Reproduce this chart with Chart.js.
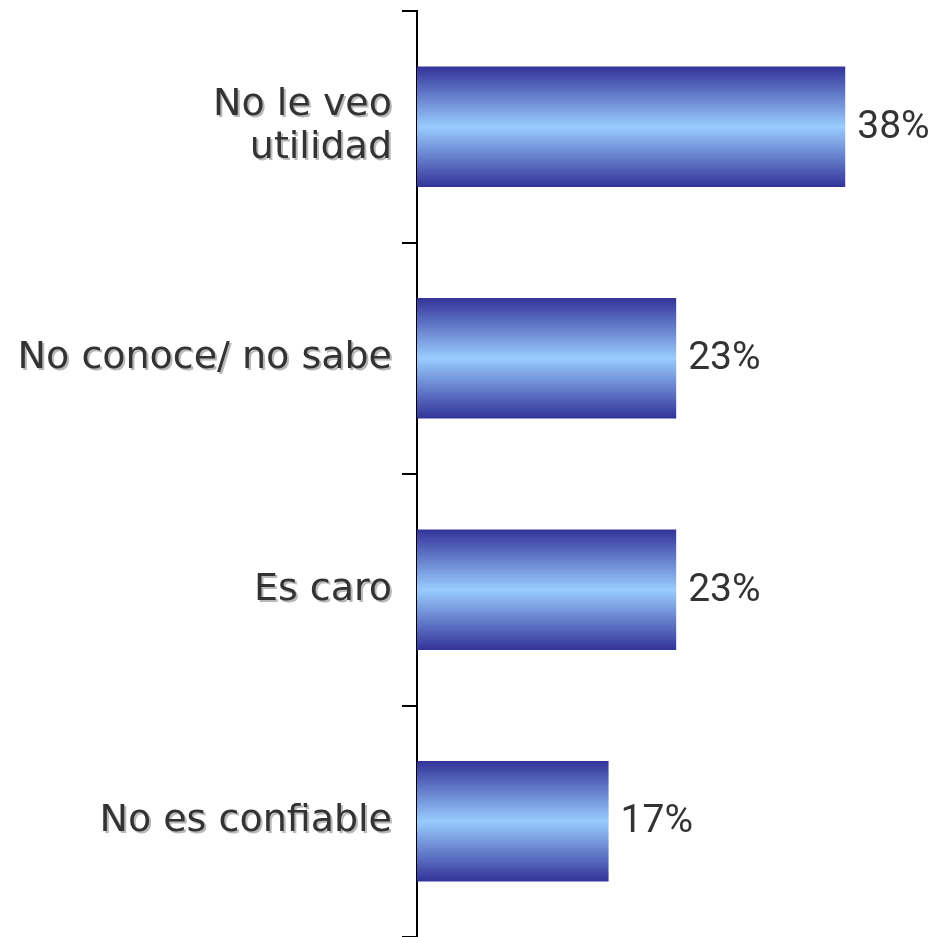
<!DOCTYPE html>
<html>
<head>
<meta charset="utf-8">
<script src="https://cdn.jsdelivr.net/npm/chart.js@4.4.1/dist/chart.umd.min.js"></script>
<style>
  body { margin: 0; background: #fff; }
  #wrap { width: 932px; height: 937px; }
</style>
</head>
<body>
<div id="wrap"><canvas id="grafica"></canvas></div>
<script>
// Datos del gráfico
const categorias = [['No le veo', 'utilidad'], 'No conoce/ no sabe', 'Es caro', 'No es confiable'];
const valores = [38, 23, 23, 17];
const etiquetasValor = ['38%', '23%', '23%', '17%'];

const barPct = 0.52;

// Degradado vertical por barra (oscuro en bordes, claro al centro)
function degradado(context) {
    const chart = context.chart;
    if (!chart.chartArea) return '#333399';
    const y = chart.scales.y;
    const c = y.getPixelForValue(context.dataIndex);
    const half = (y.height / categorias.length) * barPct / 2;
    const g = chart.ctx.createLinearGradient(0, c - half, 0, c + half);
    g.addColorStop(0, '#333399');
    g.addColorStop(0.5, '#99CCFF');
    g.addColorStop(1, '#333399');
    return g;
}

// Etiquetas del eje con sombra y valores al final de las barras
const etiquetasPlugin = {
    id: 'etiquetas',
    afterDraw(chart) {
        const ctx = chart.ctx;
        const y = chart.scales.y;
        ctx.save();
        ctx.font = '38px "DejaVu Sans"';
        ctx.textAlign = 'right';
        ctx.textBaseline = 'middle';
        categorias.forEach((cat, i) => {
            const lines = Array.isArray(cat) ? cat : [cat];
            const c = y.getPixelForValue(i);
            const lh = 43;
            lines.forEach((txt, j) => {
                const ly = c + (j - (lines.length - 1) / 2) * lh;
                ctx.fillStyle = '#b8b8b8';
                ctx.fillText(txt, 394, ly + 2);
                ctx.fillStyle = '#333333';
                ctx.fillText(txt, 392, ly);
            });
        });
        ctx.font = '39px Roboto';
        ctx.textAlign = 'left';
        ctx.fillStyle = '#333333';
        chart.getDatasetMeta(0).data.forEach((bar, i) => {
            ctx.fillText(etiquetasValor[i], bar.x + 12, bar.y + 1);
        });
        ctx.restore();
    }
};

const ctx = document.getElementById('grafica').getContext('2d');
new Chart(ctx, {
    type: 'bar',
    data: {
        labels: categorias,
        datasets: [{
            data: valores,
            backgroundColor: degradado,
            borderWidth: 0,
            barPercentage: barPct,
            categoryPercentage: 1
        }]
    },
    options: {
        indexAxis: 'y',
        responsive: true,
        maintainAspectRatio: false,
        animation: false,
        layout: { padding: { top: 11, right: 0, bottom: 0, left: 0 } },
        plugins: {
            legend: { display: false },
            tooltip: { enabled: false }
        },
        scales: {
            x: {
                display: false,
                min: 0,
                max: 45.7
            },
            y: {
                afterFit: s => { s.width = 417; },
                ticks: { display: false },
                grid: {
                    drawOnChartArea: false,
                    tickLength: 15,
                    color: '#000',
                    lineWidth: 2
                },
                border: { display: true, color: '#000', width: 2 }
            }
        }
    },
    plugins: [etiquetasPlugin]
});
</script>
</body>
</html>
